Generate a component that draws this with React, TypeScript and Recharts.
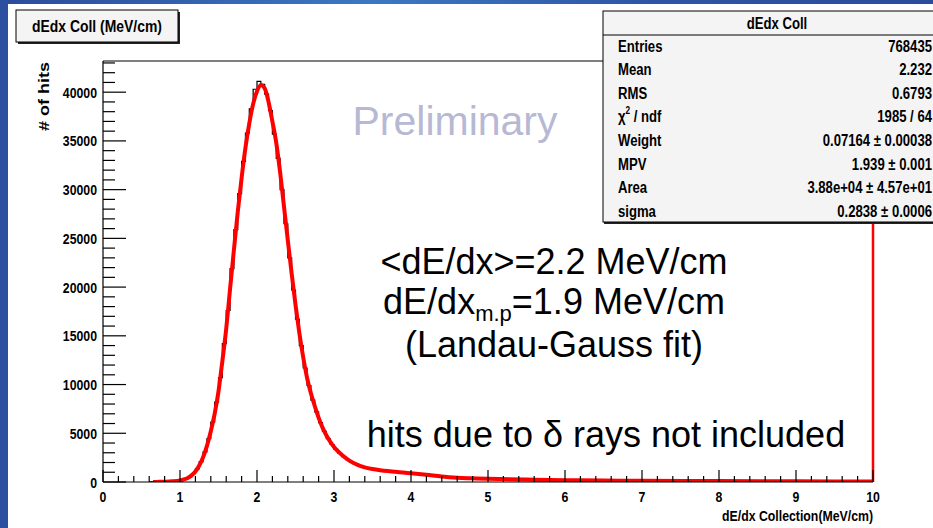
import React from 'react';
import { LineChart, Line, XAxis, YAxis, ReferenceLine } from 'recharts';

// Histogram binning (MeV/cm) and bin contents
const BIN_LOW = 0.6;
const BIN_WIDTH = 0.05;
const HIST_COUNTS = [
  15, 20, 25, 30, 40, 55, 80, 115,
  190, 320, 520, 860, 1350, 2100, 3100, 4450, 6150, 8200,
  10700, 14200, 17600, 21900, 25900, 29600, 32900, 35800, 38300, 40300,
  41100, 40800, 39800, 38100, 35700, 33200, 30000, 26500, 23000, 19700,
  16700, 14000, 11700, 9900, 8400, 7200, 6100, 5200, 4450, 3850,
  3350, 2950, 2600, 2300, 2050, 1850, 1680, 1550, 1450, 1370,
  1300, 1240, 1190, 1140, 1100, 1060, 1020, 980, 940, 900,
  860, 820, 780, 740, 700, 660, 620, 590, 550, 520,
  490, 460, 440, 420, 400, 390, 370, 360, 350, 340,
  330, 320, 310, 300, 290, 280, 275, 270, 265, 260,
  250, 245, 240, 235, 230, 225, 220, 215, 210, 205,
];

// Landau-Gauss fit curve
const FIT_X = [
  0.65, 0.7, 0.8, 0.9, 1.0, 1.05, 1.1, 1.15, 1.2, 1.25, 1.3, 1.35, 1.4, 1.45,
  1.5, 1.55, 1.6, 1.65, 1.7, 1.75, 1.8, 1.85, 1.9, 1.95, 2.0, 2.05, 2.1, 2.15,
  2.2, 2.25, 2.3, 2.35, 2.4, 2.45, 2.5, 2.55, 2.6, 2.65, 2.7, 2.75, 2.8, 2.85,
  2.9, 2.95, 3.0, 3.1, 3.2, 3.3, 3.4, 3.5, 3.6, 3.7, 3.8, 3.9, 4.0, 4.2, 4.4,
  4.6, 4.8, 5.0, 5.5, 6.0, 6.5, 7.0, 8.0, 9.0, 10.0,
];
const FIT_Y = [
  0, 10, 30, 70, 160, 260, 420, 680, 1080, 1700, 2550, 3700, 5200, 7000,
  9300, 12400, 15700, 19800, 23800, 27700, 31200, 34300, 36800, 38800, 40100, 40750, 40400, 39000,
  37000, 34800, 31800, 28300, 24800, 21400, 18200, 15300, 12800, 10700, 9100, 7800, 6600, 5600,
  4800, 4150, 3600, 2800, 2200, 1780, 1500, 1330, 1210, 1120, 1050, 970, 900, 740, 560,
  440, 380, 330, 250, 190, 150, 120, 90, 70, 60,
];

const X_MAJOR = [0, 1, 2, 3, 4, 5, 6, 7, 8, 9, 10];
const Y_MAJOR = [0, 5000, 10000, 15000, 20000, 25000, 30000, 35000, 40000];
const Y_TOP = 43200;

const STATS_TITLE = 'dEdx Coll';
const STATS_ROWS: [string, string][] = [
  ['Entries', '768435'],
  ['Mean', '2.232'],
  ['RMS', '0.6793'],
  ['χ2 / ndf', '1985 / 64'],
  ['Weight', '0.07164 ± 0.00038'],
  ['MPV', '1.939 ± 0.001'],
  ['Area', '3.88e+04 ± 4.57e+01'],
  ['sigma', '0.2838 ± 0.0006'],
];

const histData = [
  ...HIST_COUNTS.map((c, i) => ({ x: +(BIN_LOW + i * BIN_WIDTH).toFixed(3), h: c })),
  { x: +(BIN_LOW + HIST_COUNTS.length * BIN_WIDTH).toFixed(3), h: 0 },
];
const fitData = FIT_X.map((x, i) => ({ x, f: FIT_Y[i] }));

const xTicks = Array.from({ length: 51 }, (_, i) => +(i * 0.2).toFixed(1));
const yTicks = Array.from({ length: 44 }, (_, i) => i * 1000);

const ROOT_FONT = '"Liberation Sans", Arial, Helvetica, sans-serif';
const SANS = '"Liberation Sans", Arial, Helvetica, sans-serif';
const NARROW = 0.82;

// Bold condensed label in the style of ROOT's Helvetica text
const NarrowText = ({
  x,
  y,
  size,
  anchor = 'start',
  children,
}: {
  x: number;
  y: number;
  size: number;
  anchor?: 'start' | 'middle' | 'end';
  children: React.ReactNode;
}) => (
  <g transform={`translate(${x} ${y}) scale(${NARROW} 1)`}>
    <text x={0} y={0} textAnchor={anchor} fontFamily={ROOT_FONT} fontWeight="bold" fontSize={size} fill="#000">
      {children}
    </text>
  </g>
);

const XTick = (props: any) => {
  const { x, y, payload } = props;
  const v = payload.value as number;
  const major = X_MAJOR.some((m) => Math.abs(m - v) < 1e-6);
  return (
    <g>
      <line x1={x} y1={y} x2={x} y2={y - (major ? 12 : 6)} stroke="#000" strokeWidth={1.2} />
      {major && (
        <NarrowText x={x} y={y + 20} size={15} anchor="middle">
          {Math.round(v)}
        </NarrowText>
      )}
    </g>
  );
};

const YTick = (props: any) => {
  const { x, y, payload } = props;
  const v = payload.value as number;
  const major = Y_MAJOR.includes(v);
  return (
    <g>
      <line x1={x} y1={y} x2={x + (major ? 23 : 12)} y2={y} stroke="#000" strokeWidth={1.2} />
      {major && (
        <NarrowText x={x - 6} y={y + 5.5} size={15} anchor="end">
          {v}
        </NarrowText>
      )}
    </g>
  );
};

export default function App() {
  const W = 933;
  const H = 528;
  const statsX = 603;
  const statsY = 11;
  const rowStep = 23.6;
  return (
    <div style={{ position: 'fixed', left: 0, top: 0, width: W, height: H, background: '#fff', overflow: 'hidden' }}>
      <LineChart width={W} height={H} margin={{ top: 61, right: 60, bottom: 16, left: 43 }}>
        <XAxis
          dataKey="x"
          type="number"
          domain={[0, 10]}
          ticks={xTicks}
          interval={0}
          tick={<XTick />}
          tickSize={0}
          tickMargin={0}
          tickLine={false}
          height={30}
          axisLine={{ stroke: '#000', strokeWidth: 1.2 }}
          allowDataOverflow
        />
        <YAxis
          type="number"
          domain={[0, Y_TOP]}
          ticks={yTicks}
          interval={0}
          tick={<YTick />}
          tickSize={0}
          tickMargin={0}
          tickLine={false}
          width={60}
          axisLine={{ stroke: '#000', strokeWidth: 1.2 }}
          allowDataOverflow
        />
        <ReferenceLine y={Y_TOP} stroke="#000" strokeWidth={1.2} />
        <ReferenceLine x={10} stroke="#f00" strokeWidth={2.5} />
        <Line
          data={histData}
          dataKey="h"
          type="stepAfter"
          stroke="#000"
          strokeWidth={1.2}
          dot={false}
          isAnimationActive={false}
        />
        <Line
          data={fitData}
          dataKey="f"
          type="monotone"
          stroke="#ff0000"
          strokeWidth={4}
          dot={false}
          isAnimationActive={false}
        />
      </LineChart>

      <svg width={W} height={H} style={{ position: 'absolute', left: 0, top: 0, pointerEvents: 'none' }}>
        <defs>
          <linearGradient id="topband" x1="0" y1="0" x2="1" y2="0">
            <stop offset="0" stopColor="#2b4c9c" />
            <stop offset="0.4" stopColor="#3c78c2" />
            <stop offset="0.7" stopColor="#2e55a5" />
            <stop offset="1" stopColor="#2b4c9c" />
          </linearGradient>
        </defs>
        {/* slide frame */}
        <rect x={0} y={0} width={W} height={4} fill="url(#topband)" />
        <rect x={0} y={0} width={8} height={H} fill="#2d4f9f" />

        {/* histogram title box */}
        <rect x={18} y={12} width={162} height={32} fill="#222" />
        <rect x={16} y={10} width={162} height={32} fill="#f4f4f4" stroke="#000" strokeWidth={1} />
        <NarrowText x={97} y={32} size={17} anchor="middle">
          dEdx Coll (MeV/cm)
        </NarrowText>

        {/* statistics box */}
        <rect x={statsX + 1} y={statsY + 2} width={360} height={211} fill="#222" />
        <rect x={statsX} y={statsY} width={360} height={211} fill="#f4f4f4" stroke="#000" strokeWidth={1} />
        <line x1={statsX} y1={35} x2={W} y2={35} stroke="#000" strokeWidth={1} />
        <NarrowText x={777} y={29} size={16} anchor="middle">
          {STATS_TITLE}
        </NarrowText>
        {STATS_ROWS.map(([label, value], i) => {
          const y = 46 + i * rowStep + 5.5;
          return (
            <g key={label}>
              {label.startsWith('χ2') ? (
                <NarrowText x={618} y={y} size={16}>
                  χ
                  <tspan fontSize={10} dy={-8}>2</tspan>
                  <tspan dy={8}> / ndf</tspan>
                </NarrowText>
              ) : (
                <NarrowText x={618} y={y} size={16}>
                  {label}
                </NarrowText>
              )}
              <NarrowText x={932} y={y} size={16} anchor="end">
                {value}
              </NarrowText>
            </g>
          );
        })}

        {/* axis titles: vertical title keeps its length, glyph height is condensed */}
        <g transform={`translate(49 62) rotate(-90) scale(1 ${NARROW})`}>
          <text x={0} y={0} textAnchor="end" fontFamily={ROOT_FONT} fontWeight="bold" fontSize={18} fill="#000">
            # of hits
          </text>
        </g>
        <NarrowText x={873} y={521} size={15} anchor="end">
          dE/dx Collection(MeV/cm)
        </NarrowText>

        {/* annotations */}
        <text x={455} y={135} textAnchor="middle" fontFamily={SANS} fontSize={41} fill="#b7b9d4">
          Preliminary
        </text>
        <text x={554} y={274} textAnchor="middle" fontFamily={SANS} fontSize={36} fill="#000">
          {'<dE/dx>=2.2 MeV/cm'}
        </text>
        <text x={554} y={314} textAnchor="middle" fontFamily={SANS} fontSize={36} fill="#000">
          dE/dx
          <tspan fontSize={22} dy={7}>m.p</tspan>
          <tspan dy={-7}>=1.9 MeV/cm</tspan>
        </text>
        <text x={554} y={357} textAnchor="middle" fontFamily={SANS} fontSize={36} fill="#000">
          (Landau-Gauss fit)
        </text>
        <text x={606} y={447} textAnchor="middle" fontFamily={SANS} fontSize={36} fill="#000">
          hits due to δ rays not included
        </text>
      </svg>
    </div>
  );
}
